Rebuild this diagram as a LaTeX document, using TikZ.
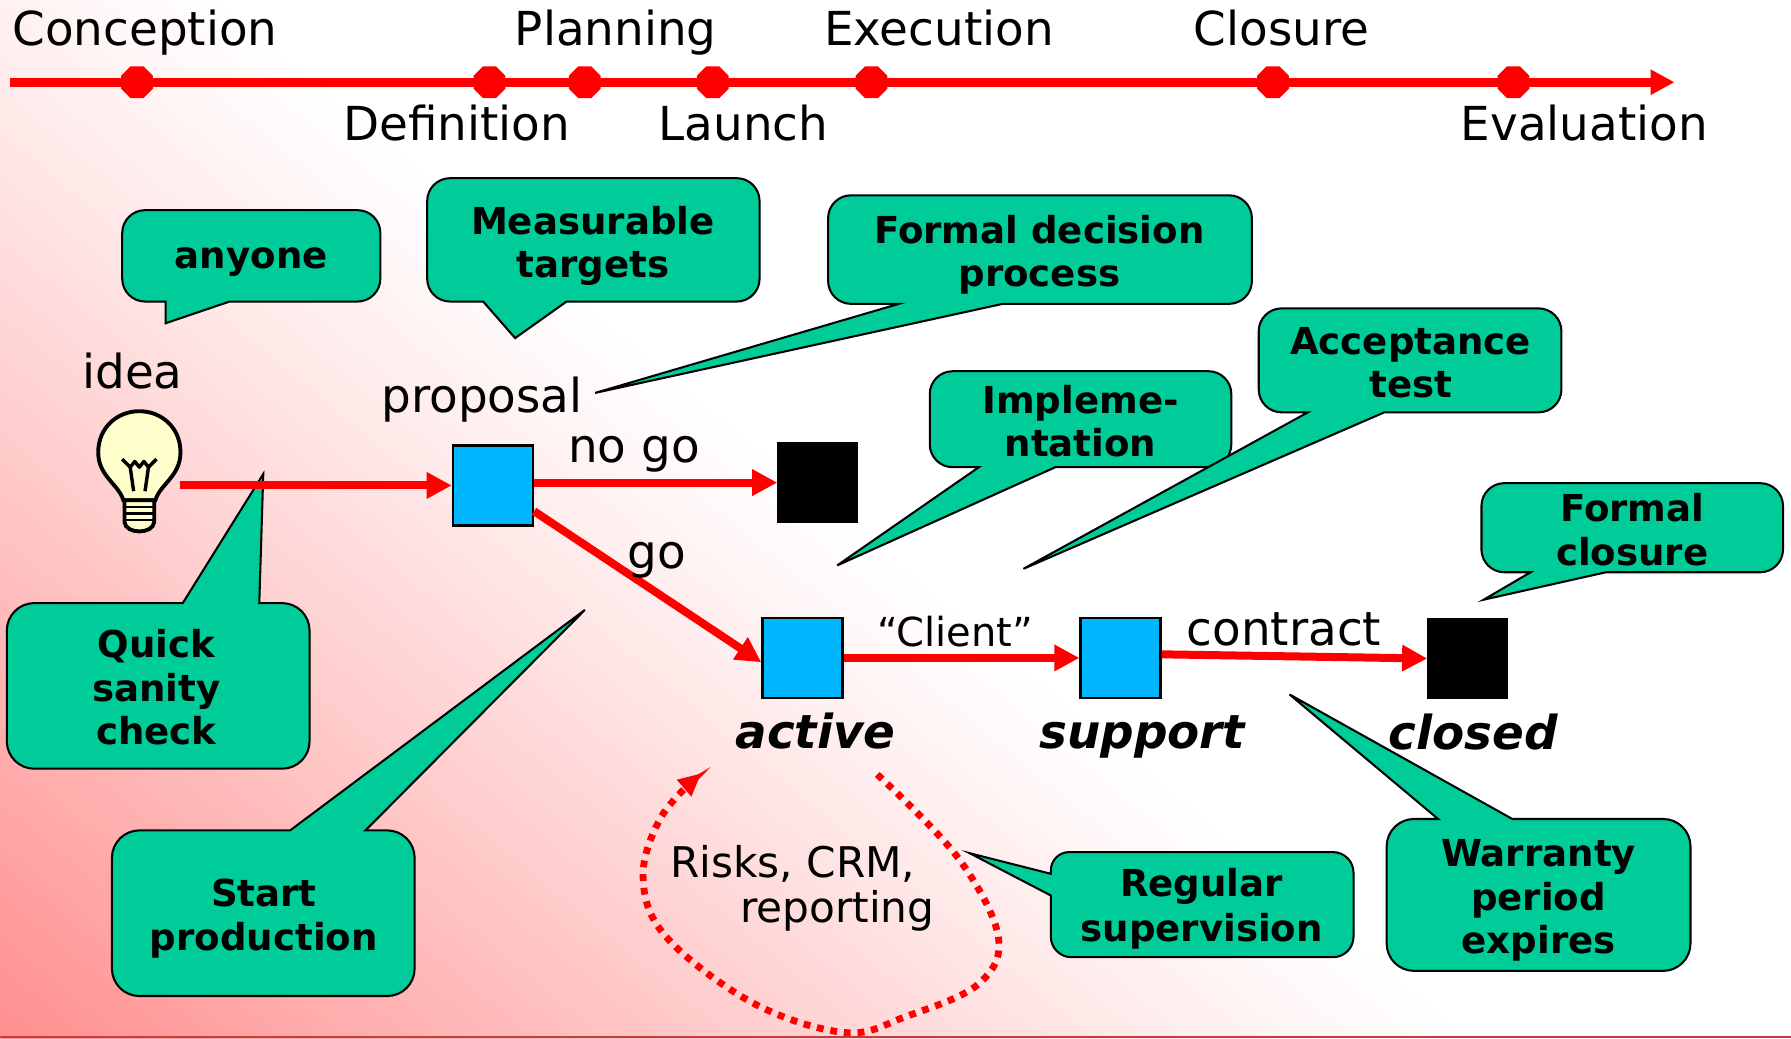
\documentclass[tikz,border=0pt]{standalone}
\usepackage{fontspec}
\setmainfont{DejaVu Sans}[BoldItalicFont={DejaVu Sans Bold Oblique},ItalicFont={DejaVu Sans Oblique}]
\usetikzlibrary{arrows.meta,shapes.geometric}
\definecolor{cgreen}{RGB}{0,204,153}
\definecolor{sqblue}{RGB}{0,183,255}
\definecolor{bulbyellow}{RGB}{255,255,204}
\definecolor{footred}{RGB}{200,60,60}
\newcommand\calloutdown[8]{\path[callout] (#1,{(#2+#4)/2}) [rounded corners=20pt] -- (#1,#2) -- (#3,#2) -- (#3,#4) [sharp corners] -- (#6,#4) -- (#7,#8) -- (#5,#4) [rounded corners=20pt] -- (#1,#4) -- cycle;}
\newcommand\calloutup[8]{\path[callout] (#1,{(#2+#4)/2}) [rounded corners=24pt] -- (#1,#4) -- (#3,#4) -- (#3,#2) [sharp corners] -- (#6,#2) -- (#7,#8) -- (#5,#2) [rounded corners=24pt] -- (#1,#2) -- cycle;}
\begin{document}
\begin{tikzpicture}[x=1pt,y=-1pt,
  lbl/.style={font=\fontsize{41}{41}\selectfont, inner sep=0pt, anchor=base},
  ctx/.style={font=\fontsize{32.5}{38}\selectfont\bfseries, inner sep=0pt, anchor=base},
  stt/.style={font=\fontsize{41}{41}\selectfont\bfseries\itshape, inner sep=0pt, anchor=base},
  rk/.style={font=\fontsize{37}{37}\selectfont, inner sep=0pt, anchor=base},
  cl/.style={font=\fontsize{35}{35}\selectfont, inner sep=0pt, anchor=base},
  callout/.style={fill=cgreen, draw=black, line width=1.8pt},
  flow/.style={draw=red, line width=7pt, -{Triangle[length=22pt,width=22pt]}},
  tline/.style={draw=red, line width=7.5pt, -{Triangle[length=21pt,width=21pt]}},
  mile/.style={regular polygon, regular polygon sides=8, minimum size=30pt, inner sep=0pt, fill=red},
  bsq/.style={rectangle, fill=sqblue, draw=black, line width=2pt, minimum width=70pt, minimum height=70pt, inner sep=0pt},
  ksq/.style={rectangle, fill=black, draw=black, line width=1pt, minimum width=70pt, minimum height=70pt, inner sep=0pt},
  dloop/.style={draw=red, line width=6pt, dash pattern=on 6pt off 6pt, -{Triangle[length=20pt,width=18pt]}},
  bulbline/.style={draw=black, line width=3.4pt, fill=bulbyellow},
]
\useasboundingbox (0,0) rectangle (1568,909);
% background
\begin{scope}
\clip (0,0) rectangle (1568,909);
\fill[white] (0,0) rectangle (1568,909);
\foreach \i in {0,...,82}{
  \pgfmathsetmacro\sa{\i*10}
  \pgfmathsetmacro\sb{\i*10+11}
  \pgfmathsetmacro\kk{max(0,44*(1-(\i*10+5)/828)^1.15)}
  \fill[red!\kk!white] ({\sa*0.638-1540},{909-\sa*0.770-1276}) -- ({\sa*0.638+1540},{909-\sa*0.770+1276}) -- ({\sb*0.638+1540},{909-\sb*0.770+1276}) -- ({\sb*0.638-1540},{909-\sb*0.770-1276}) -- cycle;
}
\end{scope}
\draw[footred, line width=1.5pt] (0,908) -- (1568,908);

% timeline
\coordinate (tl0) at (9,72);
\coordinate (tl1) at (1466,72);
\draw[tline] (tl0) -- (tl1);
\node[mile] (m1) at (120,72) {};
\node[mile] (m2) at (428.5,72) {};
\node[mile] (m3) at (512,72) {};
\node[mile] (m4) at (624,72) {};
\node[mile] (m5) at (763,72) {};
\node[mile] (m6) at (1114.5,72) {};
\node[mile] (m7) at (1325,72) {};
\node[lbl] (conc) at (127,40) {Conception};
\node[lbl] (plan) at (539,40) {Planning};
\node[lbl] (exec) at (822,40) {Execution};
\node[lbl] (clos) at (1122,40) {Closure};
\node[lbl] (defi) at (400,123) {Definition};
\node[lbl] (laun) at (651,123) {Launch};
\node[lbl] (eval) at (1387,123) {Evaluation};

% callouts
\calloutdown{107}{184}{333}{264}{145}{201}{145}{283}
\calloutdown{374}{156}{665}{264}{423}{496}{451}{296}
\calloutdown{725}{171}{1096}{266}{787}{878}{521}{344}
\calloutdown{814}{325}{1078}{409}{857}{924}{733}{495}
\calloutdown{1102}{270}{1367}{361}{1145}{1212}{896}{498}
\calloutdown{1297}{423}{1561}{501}{1340}{1406}{1299}{525}
\calloutup{6}{528}{271}{673}{160}{227}{230.5}{415}
\calloutup{98}{727}{363}{872}{254}{320}{512}{534}
\calloutup{1214}{717}{1480}{850}{1259}{1324}{1129}{608}
\path[callout] (1052,746) [rounded corners=18pt] -- (1185,746) -- (1185,838) -- (920,838) [sharp corners] -- (920,784) -- (849,747) -- (920,765) [rounded corners=16pt] -- (920,746) -- cycle;

\node[ctx] (t1) at (220,235) {anyone};
\node[ctx] (t2a) at (519,205) {Measurable};
\node[ctx] (t2b) at (519,243) {targets};
\node[ctx] (t3a) at (910,213) {Formal decision};
\node[ctx] (t3b) at (910,251) {process};
\node[ctx] (t4a) at (946,362) {Impleme-};
\node[ctx] (t4b) at (946,400) {ntation};
\node[ctx] (t5a) at (1235,310) {Acceptance};
\node[ctx] (t5b) at (1235,348) {test};
\node[ctx] (t6a) at (1429,457) {Formal};
\node[ctx] (t6b) at (1429,495) {closure};
\node[ctx] (t7a) at (137,576) {Quick};
\node[ctx] (t7b) at (137,614) {sanity};
\node[ctx] (t7c) at (137,652) {check};
\node[ctx] (t8a) at (231,794) {Start};
\node[ctx] (t8b) at (231,832) {production};
\node[ctx] (t9a) at (1052,785) {Regular};
\node[ctx] (t9b) at (1052,824) {supervision};
\node[ctx] (t10a) at (1347,759) {Warranty};
\node[ctx] (t10b) at (1347,797) {period};
\node[ctx] (t10c) at (1347,835) {expires};

% light bulb
\draw[bulbline] (108,438) .. controls (104,424) and (86,417) .. (86,396) .. controls (86,374) and (103,360) .. (122,360) .. controls (141,360) and (158,374) .. (158,396) .. controls (158,417) and (140,424) .. (136,438) -- cycle;
\draw[bulbline] (109,438) -- (109,457) .. controls (110,468) and (134,468) .. (135,457) -- (135,438) -- cycle;
\foreach \yy in {444,449.5,455}{\draw[line width=2pt] (109,\yy) -- (135,\yy);}
\draw[line width=3pt, line join=round] (107,402) -- (114,409) -- (118,404) -- (122,409) -- (126,404) -- (130,409) -- (137,402);
\draw[line width=3pt] (114,409) -- (117,430);
\draw[line width=3pt] (130,409) -- (127,430);
\coordinate (bulb) at (158,425);

% states
\node[bsq] (prop) at (431.5,425) {};
\node[ksq] (nogo) at (716,422.5) {};
\node[bsq] (act) at (702.5,576) {};
\node[bsq] (sup) at (981,576) {};
\node[ksq] (clo) at (1285,576.5) {};

\draw[flow] (bulb) -- (prop.west);
\draw[flow] (prop.east |- nogo.west) -- (nogo.west);
\draw[flow] (prop.-32) -- (act.186);
\draw[flow] (act.east) -- (sup.west);
\draw[flow] (sup.5) -- (clo.west);

\node[lbl] (idea) at (116,340) {idea};
\node[lbl] (propl) at (422,361) {proposal};
\node[lbl] (nogol) at (555,405) {no go};
\node[lbl] (gol) at (575,497.5) {go};
\node[cl] (clientl) at (836,566) {“Client”};
\node[lbl] (contrl) at (1124,565) {contract};
\node[stt] (actl) at (714,655) {active};
\node[stt] (supl) at (1000,655) {support};
\node[stt] (clol) at (1290,656) {closed};

% supervision loop
\coordinate (loopA) at (768,678);
\coordinate (loopB) at (614,677);
\draw[dloop] plot[smooth, tension=0.6] coordinates {(loopA) (838,750) (874,820) (856,862) (793,890) (740,904) (659,878) (583,820) (563,768) (579,715) (loopB)};
\node[rk] (risk) at (694,768) {Risks, CRM,};
\node[rk] (repo) at (733,808) {reporting};
\end{tikzpicture}
\end{document}
